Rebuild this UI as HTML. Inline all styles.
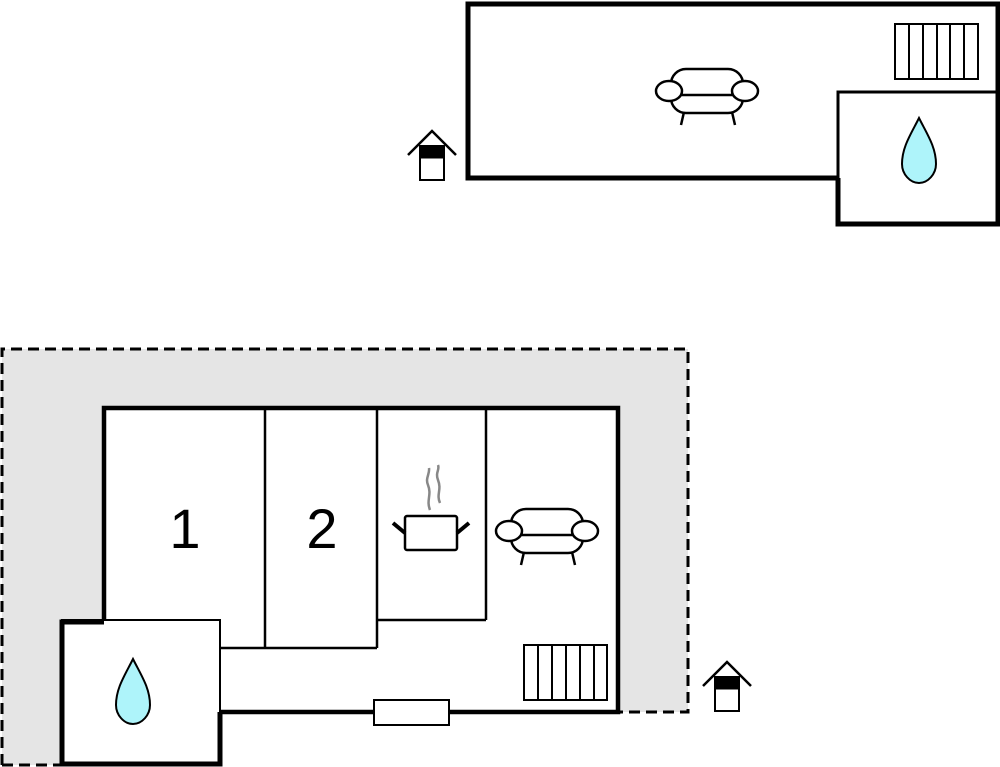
<!DOCTYPE html>
<html><head><style>html,body{margin:0;padding:0;background:#fff}svg{display:block}</style></head>
<body>
<svg width="1000" height="767" viewBox="0 0 1000 767" xmlns="http://www.w3.org/2000/svg" font-family="Liberation Sans, sans-serif">
<defs>
<g id="sofa" fill="#fff" stroke="#000" stroke-width="2.5">
<line x1="-23" y1="21" x2="-26" y2="34"/><line x1="25" y1="21" x2="28" y2="34"/>
<rect x="-36" y="-22" width="72" height="44" rx="15"/>
<line x1="-30" y1="4" x2="30" y2="4"/>
<ellipse cx="-38" cy="0" rx="13" ry="10"/><ellipse cx="38" cy="0" rx="13" ry="10"/>
</g>
<g id="drop"><path d="M0,-34 C-8,-18 -17,-5 -17,12 C-17,22 -9,31 0,31 C9,31 17,22 17,12 C17,-5 8,-18 0,-34Z" fill="#aef4fa" stroke="#000" stroke-width="2"/></g>
<g id="entr" stroke="#000" fill="#fff">
<polyline points="-24,14 0,-10 24,14" fill="none" stroke-width="2.5"/>
<rect x="-12" y="5" width="24" height="34" stroke-width="2"/>
<rect x="-12" y="5" width="24" height="12" fill="#000"/>
</g>
</defs>

<rect x="468" y="4" width="530" height="174" fill="#fff" stroke="#000" stroke-width="5"/>
<rect x="838" y="92" width="160" height="132" fill="#fff" stroke="#000" stroke-width="3"/>
<polyline points="838,178 838,224 998,224 998,4" fill="none" stroke="#000" stroke-width="5"/>
<g fill="#fff" stroke="#000" stroke-width="2">
<rect x="895" y="24" width="83" height="55"/>
<line x1="909" y1="24" x2="909" y2="79"/><line x1="923" y1="24" x2="923" y2="79"/><line x1="937" y1="24" x2="937" y2="79"/><line x1="950" y1="24" x2="950" y2="79"/><line x1="964" y1="24" x2="964" y2="79"/>
</g>
<use href="#sofa" x="707" y="91"/>
<use href="#drop" x="919" y="152"/>
<use href="#entr" x="432" y="141"/>

<path d="M2,349 H688 V712 H620 V712 H222 V765 H2 Z" fill="#e5e5e5"/>
<path d="M2,765 V349 H688 V712 H620" fill="none" stroke="#000" stroke-width="3" stroke-dasharray="11,6"/>
<line x1="2" y1="765" x2="60" y2="765" stroke="#000" stroke-width="3" stroke-dasharray="11,6"/>
<rect x="104" y="408" width="514" height="304" fill="#fff"/>
<g stroke="#000" fill="none">
<polyline points="104,620 104,408 618,408 618,712 220,712" stroke-width="4.5"/>
<line x1="265" y1="408" x2="265" y2="648" stroke-width="2.5"/>
<line x1="377" y1="408" x2="377" y2="648" stroke-width="2.5"/>
<line x1="486" y1="408" x2="486" y2="620" stroke-width="2.5"/>
<line x1="220" y1="648" x2="377" y2="648" stroke-width="2.5"/>
<line x1="377" y1="620" x2="486" y2="620" stroke-width="2.5"/>
</g>
<rect x="62" y="620" width="158" height="144" fill="#fff" stroke="#000" stroke-width="2"/>
<polyline points="104,622 62,622 62,764 220,764 220,712" fill="none" stroke="#000" stroke-width="5"/>
<rect x="374" y="700" width="75" height="25" fill="#fff" stroke="#000" stroke-width="2"/>
<g fill="#fff" stroke="#000" stroke-width="2">
<rect x="524" y="645" width="83" height="55"/>
<line x1="538" y1="645" x2="538" y2="700"/><line x1="552" y1="645" x2="552" y2="700"/><line x1="566" y1="645" x2="566" y2="700"/><line x1="580" y1="645" x2="580" y2="700"/><line x1="594" y1="645" x2="594" y2="700"/>
</g>
<text x="185" y="548" font-size="56" text-anchor="middle">1</text>
<text x="322" y="548" font-size="56" text-anchor="middle">2</text>
<g stroke="#888" stroke-width="2.5" fill="none">
<path d="M430,510 C426,500 432,495 428,485 C425,478 430,474 429,468"/>
<path d="M440,503 C436,494 442,490 438,480 C435,472 440,470 438,465"/>
</g>
<rect x="405" y="516" width="52" height="34" rx="2" fill="#fff" stroke="#000" stroke-width="2.5"/>
<line x1="393" y1="523" x2="405" y2="533" stroke="#000" stroke-width="4"/>
<line x1="457" y1="533" x2="469" y2="523" stroke="#000" stroke-width="4"/>
<use href="#sofa" x="547" y="531"/>
<use href="#drop" x="133" y="693"/>
<use href="#entr" x="727" y="672"/>
</svg>
</body></html>
